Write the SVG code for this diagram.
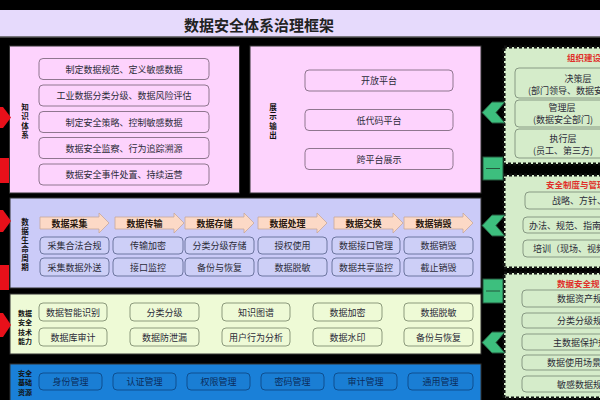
<svg xmlns="http://www.w3.org/2000/svg" width="600" height="400" viewBox="0 0 600 400">
<style>
text{font-family:"Noto Sans CJK SC","Noto Sans",sans-serif;fill:#2b2b38;font-size:9px}
.c{text-anchor:middle;dominant-baseline:central}
.s{text-anchor:start;dominant-baseline:central}
.lbl{font-size:7px;font-weight:bold;fill:#111}
.vl{font-size:7.5px;font-weight:bold;fill:#111;writing-mode:vertical-rl;text-anchor:middle;letter-spacing:2px}
.hd{font-weight:bold;font-size:9px;fill:#2a1a10}
.red{fill:#e0302a;font-weight:bold;font-size:8.5px}
.pk{fill:#fdd3fd;stroke:#8f768f;stroke-width:1}
.lv{fill:#cdcff7;stroke:#6d76a0;stroke-width:1}
.yl{fill:#eefad6;stroke:#8c9a7c;stroke-width:1}
.bl{fill:#1a7ed4;stroke:#0e4f90;stroke-width:1}
.gp{fill:#d5ecca;stroke:#111;stroke-width:3;stroke-dasharray:3 2}
.gi{fill:#d5ecca;stroke:#889a84;stroke-width:1}
.arw{fill:#fcd9c6;stroke:#c8a89a;stroke-width:0.8}
.chev{fill:#3dbf7e;stroke:#25573c;stroke-width:1}
.redc{fill:#e8101a}
.bt{fill:#0b2c5a}
</style>
<rect x="0" y="0" width="600" height="400" fill="#000"/>
<g id="title">
<rect x="0" y="10" width="600" height="27" fill="#e6dafc"/>
<line x1="0" y1="37" x2="600" y2="37" stroke="#555" stroke-width="1.5"/>
<text x="259" y="24" class="c" style="font-size:15px;font-weight:bold;fill:#222">数据安全体系治理框架</text>
</g>
<g id="knowledge">
<rect x="9.5" y="46" width="230" height="147" fill="#fdd3fd" stroke="#333"/>
<text x="25" y="122" class="vl">知识体系</text>
<rect class="pk" x="39" y="58.5" width="170" height="21" rx="4"/><text x="124" y="69" class="c">制定数据规范、定义敏感数据</text>
<rect class="pk" x="39" y="85" width="170" height="21" rx="4"/><text x="124" y="95.5" class="c">工业数据分类分级、数据风险评估</text>
<rect class="pk" x="39" y="111.5" width="170" height="21" rx="4"/><text x="124" y="122" class="c">制定安全策略、控制敏感数据</text>
<rect class="pk" x="39" y="137.5" width="170" height="21" rx="4"/><text x="124" y="148" class="c">数据安全监察、行为追踪溯源</text>
<rect class="pk" x="39" y="164" width="170" height="21" rx="4"/><text x="124" y="174.5" class="c">数据安全事件处置、持续运营</text>
</g>
<g id="display">
<rect x="250" y="46" width="231" height="147" fill="#fdd3fd" stroke="#333"/>
<text x="273" y="122" class="vl">展示输出</text>
<rect class="pk" x="305" y="70" width="148" height="21" rx="4"/><text x="379" y="80.5" class="c">开放平台</text>
<rect class="pk" x="305" y="109.5" width="148" height="21" rx="4"/><text x="379" y="120" class="c">低代码平台</text>
<rect class="pk" x="305" y="148.5" width="148" height="21" rx="4"/><text x="379" y="159" class="c">跨平台展示</text>
</g>
<g id="lifecycle">
<rect x="10" y="198" width="471" height="90" fill="#cbcbf8" stroke="#333"/>
<text x="25" y="245.5" class="vl" style="letter-spacing:1.5px">数据生命周期</text>
<polygon class="arw" points="40,217 99,217 99,213 109,223 99,233 99,229 40,229"/><text x="69.5" y="223" class="c hd">数据采集</text>
<polygon class="arw" points="115,217 174,217 174,213 184,223 174,233 174,229 115,229"/><text x="144.5" y="223" class="c hd">数据传输</text>
<polygon class="arw" points="185,217 244,217 244,213 254,223 244,233 244,229 185,229"/><text x="214.5" y="223" class="c hd">数据存储</text>
<polygon class="arw" points="258,217 317,217 317,213 327,223 317,233 317,229 258,229"/><text x="287.5" y="223" class="c hd">数据处理</text>
<polygon class="arw" points="334,217 393,217 393,213 403,223 393,233 393,229 334,229"/><text x="363.5" y="223" class="c hd">数据交换</text>
<polygon class="arw" points="404,217 463,217 463,213 473,223 463,233 463,229 404,229"/><text x="433.5" y="223" class="c hd">数据销毁</text>
<rect class="lv" x="40" y="237" width="69" height="17" rx="4"/><text x="74.5" y="245.5" class="c">采集合法合规</text>
<rect class="lv" x="113" y="237" width="70" height="17" rx="4"/><text x="148" y="245.5" class="c">传输加密</text>
<rect class="lv" x="185" y="237" width="69" height="17" rx="4"/><text x="219.5" y="245.5" class="c">分类分级存储</text>
<rect class="lv" x="258" y="237" width="69" height="17" rx="4"/><text x="292.5" y="245.5" class="c">授权使用</text>
<rect class="lv" x="332" y="237" width="68" height="17" rx="4"/><text x="366" y="245.5" class="c">数据接口管理</text>
<rect class="lv" x="404" y="237" width="69" height="17" rx="4"/><text x="438.5" y="245.5" class="c">数据销毁</text>
<rect class="lv" x="40" y="258" width="69" height="18" rx="4"/><text x="74.5" y="267" class="c">采集数据外送</text>
<rect class="lv" x="113" y="258" width="70" height="18" rx="4"/><text x="148" y="267" class="c">接口监控</text>
<rect class="lv" x="185" y="258" width="69" height="18" rx="4"/><text x="219.5" y="267" class="c">备份与恢复</text>
<rect class="lv" x="258" y="258" width="69" height="18" rx="4"/><text x="292.5" y="267" class="c">数据脱敏</text>
<rect class="lv" x="332" y="258" width="68" height="18" rx="4"/><text x="366" y="267" class="c">数据共享监控</text>
<rect class="lv" x="404" y="258" width="69" height="18" rx="4"/><text x="438.5" y="267" class="c">截止销毁</text>
</g>
<g id="tech">
<rect x="10" y="294" width="471" height="60" fill="#eefad6" stroke="#333"/>
<text x="25" y="312.5" class="c lbl">数据</text><text x="25" y="322" class="c lbl">安全</text><text x="25" y="331.5" class="c lbl">技术</text><text x="25" y="341" class="c lbl">能力</text>
<rect class="yl" x="39" y="303" width="68" height="18" rx="4"/><text x="73" y="312" class="c">数据智能识别</text>
<rect class="yl" x="130" y="303" width="69" height="18" rx="4"/><text x="164.5" y="312" class="c">分类分级</text>
<rect class="yl" x="222" y="303" width="68" height="18" rx="4"/><text x="256" y="312" class="c">知识图谱</text>
<rect class="yl" x="313" y="303" width="69" height="18" rx="4"/><text x="347.5" y="312" class="c">数据加密</text>
<rect class="yl" x="404" y="303" width="69" height="18" rx="4"/><text x="438.5" y="312" class="c">数据脱敏</text>
<rect class="yl" x="39" y="328" width="68" height="18" rx="4"/><text x="73" y="337" class="c">数据库审计</text>
<rect class="yl" x="130" y="328" width="69" height="18" rx="4"/><text x="164.5" y="337" class="c">数据防泄漏</text>
<rect class="yl" x="222" y="328" width="68" height="18" rx="4"/><text x="256" y="337" class="c">用户行为分析</text>
<rect class="yl" x="313" y="328" width="69" height="18" rx="4"/><text x="347.5" y="337" class="c">数据水印</text>
<rect class="yl" x="404" y="328" width="69" height="18" rx="4"/><text x="438.5" y="337" class="c">备份与恢复</text>
</g>
<g id="base">
<rect x="10" y="364" width="471" height="40" fill="#1a80d8" stroke="#333"/>
<text x="25" y="372.5" class="c lbl">安全</text><text x="25" y="382" class="c lbl">基础</text><text x="25" y="391.5" class="c lbl">资源</text>
<rect class="bl" x="39" y="373" width="63" height="17" rx="4"/><text x="70.5" y="381.5" class="c bt">身份管理</text>
<rect class="bl" x="113" y="373" width="63" height="17" rx="4"/><text x="144.5" y="381.5" class="c bt">认证管理</text>
<rect class="bl" x="187" y="373" width="63" height="17" rx="4"/><text x="218.5" y="381.5" class="c bt">权限管理</text>
<rect class="bl" x="261" y="373" width="63" height="17" rx="4"/><text x="292.5" y="381.5" class="c bt">密码管理</text>
<rect class="bl" x="334" y="373" width="63" height="17" rx="4"/><text x="365.5" y="381.5" class="c bt">审计管理</text>
<rect class="bl" x="408" y="373" width="65" height="17" rx="4"/><text x="440.5" y="381.5" class="c bt">通用管理</text>
</g>
<g id="org">
<rect class="gp" x="504" y="47" width="120" height="117"/>
<text x="567" y="57" class="s red">组织建设</text>
<rect class="gi" x="515" y="68" width="110" height="30" rx="4"/>
<text x="578" y="78" class="c">决策层</text><text x="528" y="90" class="s">(部门领导、数据安</text>
<rect class="gi" x="515" y="100" width="94" height="27" rx="4"/>
<text x="562" y="107.5" class="c">管理层</text><text x="563" y="119" class="c">(数据安全部门)</text>
<rect class="gi" x="515" y="129" width="96" height="29" rx="4"/>
<text x="563" y="138" class="c">执行层</text><text x="563" y="150" class="c">(员工、第三方)</text>
</g>
<g id="policy">
<rect class="gp" x="504" y="175" width="120" height="93"/>
<text x="546" y="184" class="s red">安全制度与管理</text>
<rect class="gi" x="525" y="192" width="100" height="17" rx="4"/><text x="552" y="200.5" class="s">战略、方针、</text>
<rect class="gi" x="523" y="217" width="100" height="16" rx="4"/><text x="529" y="225" class="s">办法、规范、指南、</text>
<rect class="gi" x="523" y="240" width="100" height="17" rx="4"/><text x="533" y="248.5" class="s">培训（现场、视频</text>
</g>
<g id="spec">
<rect class="gp" x="504" y="273" width="120" height="125"/>
<text x="557" y="283" class="s red">数据安全规</text>
<rect class="gi" x="522" y="290" width="100" height="17" rx="4"/><text x="557" y="298.5" class="s">数据资产规</text>
<rect class="gi" x="522" y="313" width="100" height="15" rx="4"/><text x="557" y="320.5" class="s">分类分级规</text>
<rect class="gi" x="522" y="334" width="100" height="16" rx="4"/><text x="553" y="342" class="s">主数据保护规</text>
<rect class="gi" x="522" y="355" width="100" height="15" rx="4"/><text x="547" y="362.5" class="s">数据使用场景</text>
<rect class="gi" x="522" y="376" width="100" height="16" rx="4"/><text x="557" y="384" class="s">敏感数据规</text>
</g>
<g id="connectors">
<polygon class="chev" points="505,102 492,102 482,112.5 492,123 505,123 496,112.5"/>
<polygon class="chev" points="505,215 492,215 482,225.5 492,236 505,236 496,225.5"/>
<polygon class="chev" points="505,332 492,332 482,342.5 492,353 505,353 496,342.5"/>
<rect class="chev" x="483" y="157" width="20" height="23"/><line x1="486" y1="168.5" x2="500" y2="168.5" stroke="#25573c"/>
<rect class="chev" x="483" y="279" width="20" height="24"/><line x1="486" y1="291" x2="500" y2="291" stroke="#25573c"/>
<polygon class="redc" points="0,107 3,107 11,117.5 3,128 0,128"/>
<polygon class="redc" points="0,210 3,210 11,221 3,232 0,232"/>
<polygon class="redc" points="0,313 3,313 11,325 3,337 0,337"/>
<rect class="redc" x="0" y="158" width="9" height="25"/>
<rect class="redc" x="0" y="265" width="9" height="25"/>
</g>
</svg>
